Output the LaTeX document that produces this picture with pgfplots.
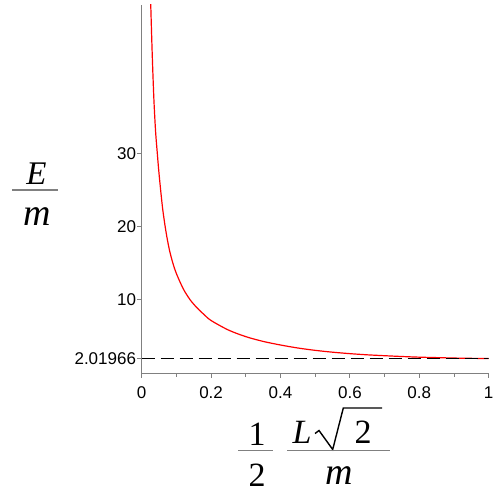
\documentclass[border=0pt]{standalone}
\usepackage{pgfplots}
\pgfplotsset{compat=1.18}
\usepackage{fontspec}
\setmainfont{Liberation Serif}
\newfontfamily\tickfont{Liberation Sans}
\definecolor{axisgray}{RGB}{128,128,128}

\begin{document}
\begin{tikzpicture}
\useasboundingbox (0,0) rectangle (500pt,500pt);
\begin{axis}[
  at={(141.7pt,126.7pt)}, anchor=south west,
  scale only axis, width=347pt, height=368.3pt,
  xmin=0, xmax=1, ymin=0, ymax=50.24,
  axis lines=left,
  axis line style={-, axisgray, line width=1.4pt},
  xtick={0,0.2,0.4,0.6,0.8,1},
  xticklabels={0,0.2,0.4,0.6,0.8,1},
  minor xtick={0.1,0.3,0.5,0.7,0.9},
  ytick={2.01966,10,20,30},
  yticklabels={2.01966,10,20,30},
  tick align=outside,
  major tick length=4.5pt, minor tick length=3.5pt,
  every tick/.style={axisgray, line width=1pt},
  tick label style={font=\tickfont\fontsize{17}{17}\selectfont, text=black, inner sep=1pt},
  xticklabel style={yshift=-8pt},
  clip=true,
]
% curve
\addplot[red, line width=1.2pt, smooth] coordinates {
  (0.025,52) (0.03,44) (0.035,37.5) (0.04,33) (0.045,30) (0.05,27.2)
  (0.06,22.6) (0.07,19.3) (0.08,16.8) (0.09,15) (0.10,13.6) (0.12,11.5)
  (0.14,10) (0.16,8.9) (0.18,8) (0.20,7.2) (0.25,5.9) (0.30,5.0)
  (0.35,4.35) (0.40,3.86) (0.45,3.45) (0.50,3.13) (0.55,2.88) (0.60,2.68)
  (0.65,2.52) (0.70,2.40) (0.75,2.29) (0.80,2.20) (0.85,2.14) (0.90,2.08)
  (0.95,2.04) (1.00,2.02)
};
% asymptote
\addplot[black, line width=1.3pt, dash pattern=on 13.5pt off 5.5pt] coordinates {
  (0,2.01966) (1,2.01966)
};
\end{axis}
% y label: E / m
\node[inner sep=0, font=\fontsize{33}{33}\selectfont\itshape] at (36.5pt,326pt) {E};
\draw[axisgray, line width=1.4pt] (12pt,310pt) -- (58pt,310pt);
\node[inner sep=0, font=\fontsize{38}{38}\selectfont\itshape] at (37pt,283.5pt) {m};
% x label: 1/2 * L sqrt(2) / m
\node[inner sep=0, font=\fontsize{34}{34}\selectfont] at (257pt,66pt) {1};
\draw[axisgray, line width=1.4pt] (238pt,49.3pt) -- (273pt,49.3pt);
\node[inner sep=0, font=\fontsize{34}{34}\selectfont] at (257pt,25pt) {2};
\node[inner sep=0, font=\fontsize{34}{34}\selectfont\itshape] at (302pt,67.5pt) {L};
\draw[black, line width=1.4pt, line join=miter] (315pt,66.5pt) -- (319pt,69.5pt) -- (332.7pt,50.5pt) -- (343.3pt,92pt) -- (382pt,92pt);
\node[inner sep=0, font=\fontsize{34}{34}\selectfont] at (363pt,67.5pt) {2};
\draw[axisgray, line width=1.4pt] (287pt,49.3pt) -- (390pt,49.3pt);
\node[inner sep=0, font=\fontsize{38}{38}\selectfont\itshape] at (339pt,24pt) {m};
\end{tikzpicture}
\end{document}
